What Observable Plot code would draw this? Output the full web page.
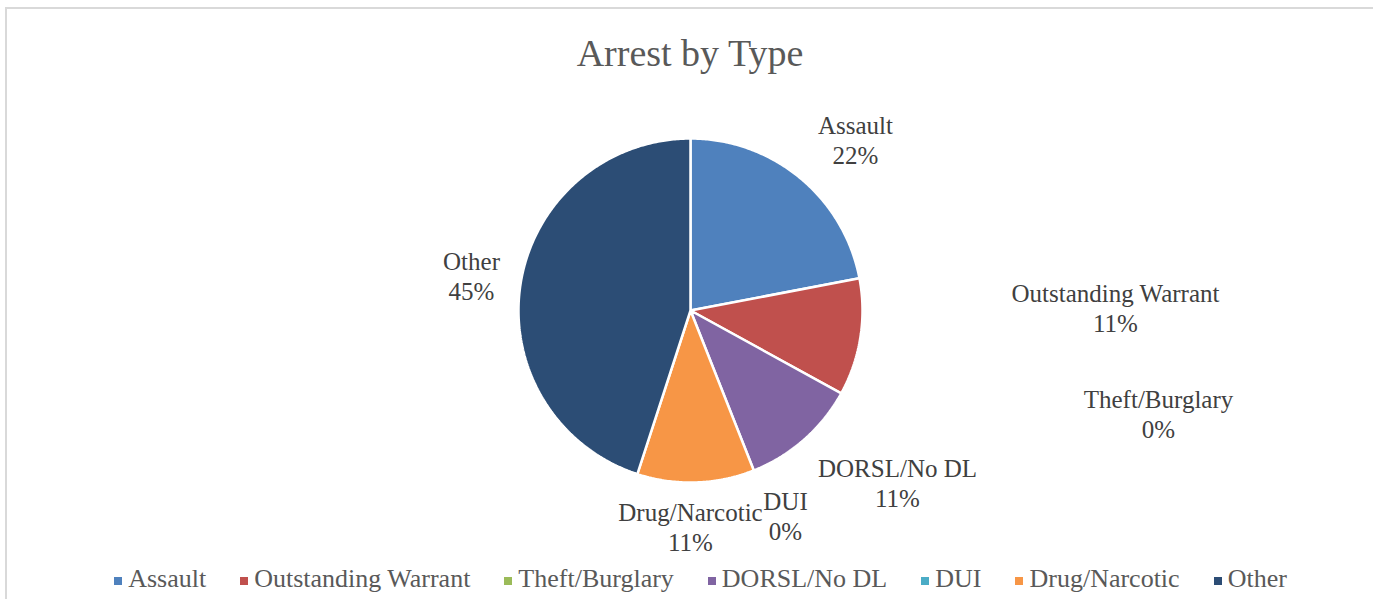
<!DOCTYPE html>
<html>
<head>
<meta charset="utf-8">
<script src="https://cdn.jsdelivr.net/npm/d3@7"></script>
<script src="https://cdn.jsdelivr.net/npm/@observablehq/plot@0.6"></script>
<style>
  html, body { margin: 0; padding: 0; background: #fff; }
  body { width: 1373px; height: 599px; overflow: hidden; position: relative; font-family: "Liberation Serif", serif; }
  #frame { position: absolute; left: 5px; top: 7px; width: 1380px; height: 620px; border-top: 2px solid #d9d9d9; border-left: 2px solid #d9d9d9; }
  #title { position: absolute; left: 0; top: 34px; width: 1380px; text-align: center; font-size: 38px; line-height: 38px; color: #595959; }
  #chart { position: absolute; left: 0; top: 0; }
  #legend { position: absolute; left: 0; top: 565px; width: 1401px; display: flex; justify-content: center; gap: 34px; font-size: 26px; line-height: 28px; color: #595959; }
  .item { display: flex; align-items: center; white-space: nowrap; }
  .sw { width: 8px; height: 8px; margin-right: 6px; margin-top: 3px; }
</style>
</head>
<body>
<div id="frame"></div>
<div id="title">Arrest by Type</div>
<div id="chart"></div>
<div id="legend"></div>
<script>
// ---- data ----
const categories = ["Assault", "Outstanding Warrant", "Theft/Burglary", "DORSL/No DL", "DUI", "Drug/Narcotic", "Other"];
const percents = [22, 11, 0, 11, 0, 11, 45];
const colors = ["#4F81BD", "#C0504D", "#9BBB59", "#8064A2", "#4BACC6", "#F79646", "#2C4D75"];
// label placement (pixel offsets from pie centre, Excel best-fit layout)
const labelOffsets = [[165, -171], [425, -3], [468, 103], [207, 172], [95, 205], [0, 216], [-219, -35]];

// ---- layout ----
const W = 1373, H = 599, cx = 690, cy = 310, R = 172;

const rows = categories.map((c, i) => ({key: c, value: percents[i], i}));
const arcs = d3.pie().value(d => d.value).sort(null)(rows);

// polygon outline of each slice in unit coordinates
const slicePts = [];
for (const a of arcs) {
  if (a.endAngle - a.startAngle <= 0) continue;
  const k = a.data.key;
  slicePts.push({key: k, x: 0, y: 0});
  const n = Math.max(2, Math.ceil((a.endAngle - a.startAngle) / 0.01));
  for (let j = 0; j <= n; j++) {
    const t = a.startAngle + (a.endAngle - a.startAngle) * j / n;
    slicePts.push({key: k, x: Math.sin(t), y: Math.cos(t)});
  }
  slicePts.push({key: k, x: 0, y: 0});
}

const labels = rows.map((d, i) => ({
  text: d.key + "\n" + Math.round(d.value) + "%",
  x: labelOffsets[i][0] / R,
  y: -labelOffsets[i][1] / R
}));

const plot = Plot.plot({
  width: W, height: H,
  margin: 0,
  x: {domain: [-1, 1], range: [cx - R, cx + R], axis: null},
  y: {domain: [-1, 1], range: [cy + R, cy - R], axis: null},
  color: {domain: categories, range: colors, legend: false},
  style: {background: "transparent", overflow: "visible"},
  marks: [
    Plot.line(slicePts, {x: "x", y: "y", z: "key", fill: "key", stroke: "white", strokeWidth: 2.5, strokeLinejoin: "miter", curve: "linear"}),
    Plot.text(labels, {x: "x", y: "y", text: "text", fontFamily: "Liberation Serif", fontSize: 25, fill: "#404040", lineAnchor: "middle", lineHeight: 1.2, textAnchor: "middle"})
  ]
});
document.getElementById("chart").appendChild(plot);

const legend = document.getElementById("legend");
categories.forEach((c, i) => {
  const item = document.createElement("div");
  item.className = "item";
  const sw = document.createElement("span");
  sw.className = "sw";
  sw.style.background = colors[i];
  const tx = document.createElement("span");
  tx.textContent = c;
  item.appendChild(sw); item.appendChild(tx);
  legend.appendChild(item);
});
</script>
</body>
</html>
